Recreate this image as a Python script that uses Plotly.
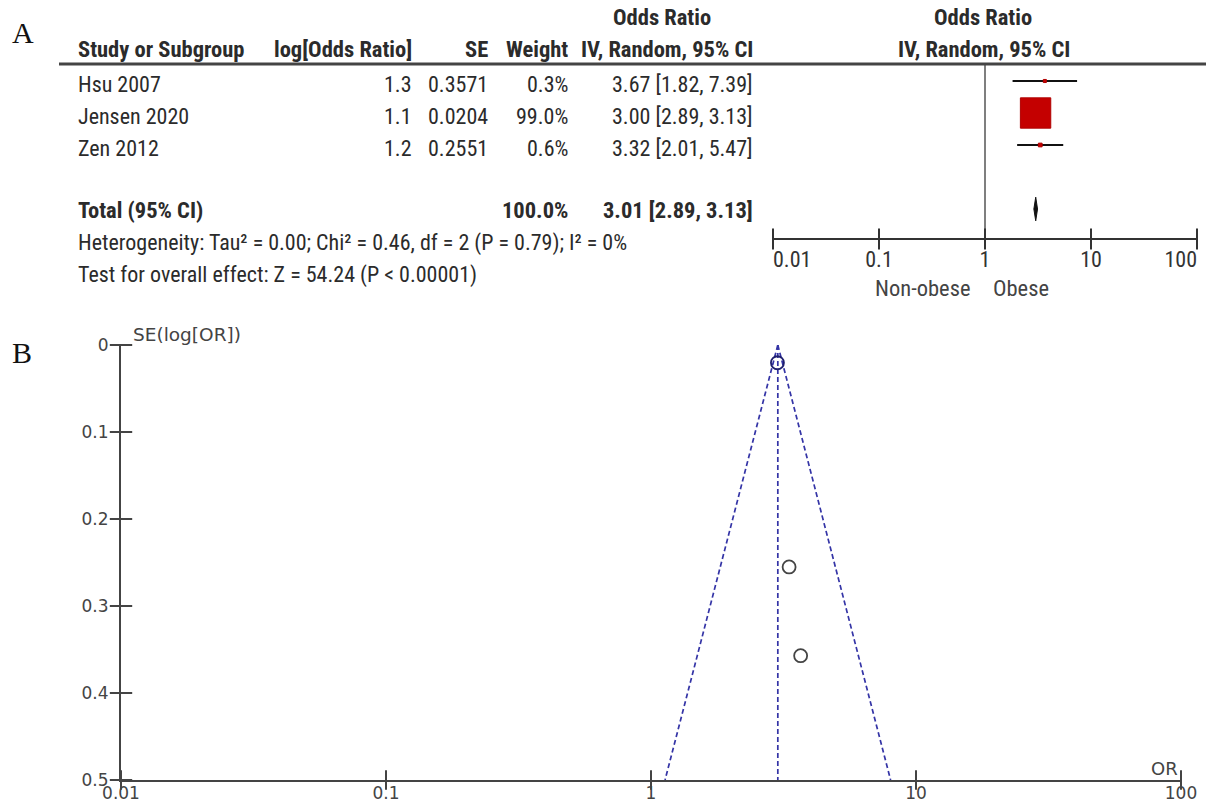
import numpy as np
import plotly.graph_objects as go

# ---------------- data ----------------
studies = ["Hsu 2007", "Jensen 2020", "Zen 2012"]
log_or_text = ["1.3", "1.1", "1.2"]
se_vals = [0.3571, 0.0204, 0.2551]
weights = [0.3, 99.0, 0.6]
or_est = [3.67, 3.00, 3.32]
ci_low = [1.82, 2.89, 2.01]
ci_high = [7.39, 3.13, 5.47]
total_label = "Total (95% CI)"
total_weight = 100.0
total_or = 3.01
total_low = 2.89
total_high = 3.13
heterogeneity = "Heterogeneity: Tau² = 0.00; Chi² = 0.46, df = 2 (P = 0.79); I² = 0%"
overall = "Test for overall effect: Z = 54.24 (P < 0.00001)"
headers = ["Study or Subgroup", "log[Odds Ratio]", "SE", "Weight", "IV, Random, 95% CI"]
or_ticks = [0.01, 0.1, 1, 10, 100]
or_tick_labels = ["0.01", "0.1", "1", "10", "100"]
se_ticks = [0, 0.1, 0.2, 0.3, 0.4, 0.5]
se_tick_labels = ["0", "0.1", "0.2", "0.3", "0.4", "0.5"]
favours = ["Non-obese", "Obese"]
funnel_se_max = 0.5

# ---------------- layout helpers ----------------
W, H = 1206, 805
def px(x):
    return x / W
def py(y):
    return 1 - y / H

TF = "Roboto Condensed, Liberation Sans Narrow, Liberation Sans, Arial, sans-serif"
TS = 22
TSB = 22.5
BF = "DejaVu Sans, Verdana, sans-serif"
TXT = "#2b2b2b"

fig = go.Figure()

rows = list(range(len(studies)))
total_row = len(studies) + 1
axis_row = 4.94

# ---- forest plot traces (xaxis x, yaxis y) ----
for i in rows:
    fig.add_trace(go.Scatter(x=[ci_low[i], ci_high[i]], y=[i, i], mode="lines",
                             line=dict(color="#111", width=2), hoverinfo="skip",
                             showlegend=False, xaxis="x", yaxis="y"))
sizes = [1.5 + 2.9 * np.sqrt(w) for w in weights]
fig.add_trace(go.Scatter(x=or_est, y=rows, mode="markers",
                         marker=dict(symbol="square", size=sizes, color="#c40000", opacity=1,
                                     line=dict(color="#b00000", width=1)),
                         showlegend=False, xaxis="x", yaxis="y"))
# diamond
dh = 0.37
fig.add_trace(go.Scatter(x=[total_low, total_or, total_high, total_or, total_low],
                         y=[total_row, total_row - dh, total_row, total_row + dh, total_row],
                         mode="lines", fill="toself", fillcolor="#111",
                         line=dict(color="#111", width=1), showlegend=False,
                         xaxis="x", yaxis="y"))
# line of no effect
fig.add_trace(go.Scatter(x=[1, 1], y=[-0.53, axis_row], mode="lines",
                         line=dict(color="#555", width=1.5), showlegend=False,
                         xaxis="x", yaxis="y"))
# forest axis ticks (crossing)
fig.add_trace(go.Scatter(x=or_ticks, y=[axis_row] * len(or_ticks), mode="markers",
                         marker=dict(symbol="line-ns-open", size=15, color="#333",
                                     line=dict(color="#333", width=2)),
                         showlegend=False, cliponaxis=False, xaxis="x", yaxis="y"))
# forest tick labels
tpos = ["bottom right"] + ["bottom center"] * (len(or_ticks) - 2) + ["bottom left"]
fig.add_trace(go.Scatter(x=or_ticks, y=[5.3] * len(or_ticks), mode="text",
                         text=or_tick_labels, textposition=tpos,
                         textfont=dict(family=TF, size=22, color="#333"),
                         showlegend=False, cliponaxis=False, xaxis="x", yaxis="y"))

# ---- funnel plot traces (x2, y2) ----
left_x = [total_or, total_or * np.exp(-1.96 * funnel_se_max)]
right_x = [total_or, total_or * np.exp(1.96 * funnel_se_max)]
dash_line = dict(color="#3434a6", width=1.7, dash="5px,3px")
for xs in (left_x, right_x, [total_or, total_or]):
    fig.add_trace(go.Scatter(x=xs, y=[0, funnel_se_max], mode="lines", line=dash_line,
                             showlegend=False, xaxis="x2", yaxis="y2"))
pt_colors = ["#444", "#1f1f6e", "#444"]
fig.add_trace(go.Scatter(x=or_est, y=se_vals, mode="markers",
                         marker=dict(symbol="circle-open", size=13, color=pt_colors, opacity=1,
                                     line=dict(width=1.8, color=pt_colors)),
                         showlegend=False, cliponaxis=False, xaxis="x2", yaxis="y2"))
# crossing ticks
fig.add_trace(go.Scatter(x=[or_ticks[0]] * len(se_ticks), y=se_ticks, mode="markers",
                         marker=dict(symbol="line-ew-open", size=16, color="#444",
                                     line=dict(color="#444", width=2)),
                         showlegend=False, cliponaxis=False, xaxis="x2", yaxis="y2"))
fig.add_trace(go.Scatter(x=or_ticks, y=[funnel_se_max] * len(or_ticks), mode="markers",
                         marker=dict(symbol="line-ns-open", size=14, color="#444",
                                     line=dict(color="#444", width=2)),
                         showlegend=False, cliponaxis=False, xaxis="x2", yaxis="y2"))

# ---------------- annotations ----------------
ann = []
def add_text(text, x, y, xanchor, bold=False, yref="y", yshift=0, size=None, font=TF, color=TXT):
    if size is None:
        size = TSB if bold else TS
    t = f"<b>{text}</b>" if bold else text
    ann.append(dict(text=t, x=x, y=y, xref="paper", yref=yref, xanchor=xanchor,
                    yanchor="middle", showarrow=False, yshift=yshift,
                    font=dict(family=font, size=size, color=color)))

col_x = [76, 414, 490, 570, 755]
col_anchor = ["left", "right", "right", "right", "right"]
for h, cx, ca in zip(headers, col_x, col_anchor):
    add_text(h, px(cx), -1, ca, bold=True)
add_text("Odds Ratio", px(662), -2, "center", bold=True)
add_text("Odds Ratio", px(983), -2, "center", bold=True)
add_text("IV, Random, 95% CI", px(984), -1, "center", bold=True)

for i in rows:
    vals = [studies[i], log_or_text[i], f"{se_vals[i]:.4f}", f"{weights[i]:.1f}%",
            f"{or_est[i]:.2f} [{ci_low[i]:.2f}, {ci_high[i]:.2f}]"]
    for v, cx, ca in zip(vals, col_x, col_anchor):
        add_text(v, px(cx), i, ca, yshift=-3)
add_text(total_label, px(col_x[0]), total_row, "left", bold=True, yshift=-1)
add_text(f"{total_weight:.1f}%", px(col_x[3]), total_row, "right", bold=True, yshift=-1)
add_text(f"{total_or:.2f} [{total_low:.2f}, {total_high:.2f}]", px(col_x[4]), total_row,
         "right", bold=True, yshift=-1)
add_text(heterogeneity, px(col_x[0]), 5, "left", yshift=-2)
add_text(overall, px(col_x[0]), 6, "left", yshift=-2)
add_text(favours[0], px(972), 6.47, "right", size=22.5, color="#444")
add_text(favours[1], px(991), 6.47, "left", size=22.5, color="#444")

# panel letters
add_text("A", px(10), py(32), "left", yref="paper", size=30,
         font="Liberation Serif, DejaVu Serif, serif", color="#111")
add_text("B", px(10), py(352), "left", yref="paper", size=30,
         font="Liberation Serif, DejaVu Serif, serif", color="#111")
# funnel labels
add_text("SE(log[OR])", px(131), py(334), "left", yref="paper", size=18.5, font=BF, color="#444")
add_text("OR", px(1180), py(768), "right", yref="paper", size=18, font=BF, color="#444")

# ---------------- layout ----------------
r_top = (0 - 81) / 32
r_bot = (300 - 81) / 32
fig.update_layout(
    width=W, height=H, margin=dict(l=0, r=0, t=0, b=0, autoexpand=False),
    paper_bgcolor="white", plot_bgcolor="rgba(0,0,0,0)",
    annotations=ann,
    xaxis=dict(type="log", range=[-2, 2], domain=[px(773), px(1197)],
               anchor="free", position=py(239), showline=True, linecolor="#333",
               linewidth=2, showticklabels=False, ticks="", showgrid=False, zeroline=False),
    yaxis=dict(range=[r_bot, r_top], domain=[py(300), 1], visible=False, anchor="x"),
    xaxis2=dict(type="log", range=[-2, 2], domain=[px(121), px(1181)], anchor="y2",
                showline=True, linecolor="#444", linewidth=2, ticks="",
                tickvals=or_ticks, ticktext=or_tick_labels, ticklabelstandoff=-3,
                tickfont=dict(family=BF, size=17, color="#444"),
                showgrid=False, zeroline=False),
    yaxis2=dict(range=[funnel_se_max, 0], domain=[py(780), py(345)], anchor="x2",
                showline=True, linecolor="#444", linewidth=2, ticks="",
                tickvals=se_ticks, ticktext=se_tick_labels, ticklabelstandoff=7,
                tickfont=dict(family=BF, size=17, color="#444"),
                showgrid=False, zeroline=False),
    shapes=[dict(type="line", xref="paper", yref="y", x0=px(59), x1=1, y0=-0.53, y1=-0.53,
                 line=dict(color="#444", width=3))],
)

fig.write_html("out.html", config={"displayModeBar": False},
               post_script="document.body.style.margin='0';document.body.style.overflow='hidden';")
